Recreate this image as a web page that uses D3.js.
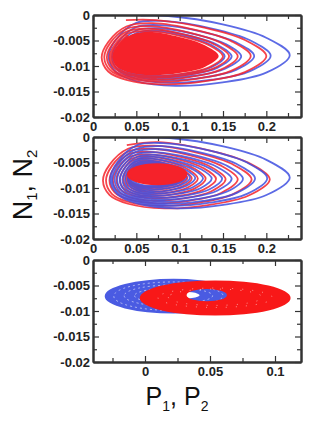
<!DOCTYPE html>
<html>
<head>
<meta charset="utf-8">
<script src="https://cdn.jsdelivr.net/npm/d3@7"></script>
<style>
  body { margin: 0; background: #fff; }
  svg { display: block; }
  .axis text { font-family: "Liberation Sans", Arial, sans-serif; font-weight: bold; font-size: 13px; fill: #222; }
  .axis path, .axis line { stroke: #333; }
  .label { font-family: "Liberation Sans", Arial, sans-serif; fill: #111; }
</style>
</head>
<body>
<svg id="chart"></svg>
<script>
// tick values
const xTicksWide = [0, 0.05, 0.1, 0.15, 0.2];
const xMinorWide = [0.025, 0.075, 0.125, 0.175, 0.225];
const xTicksNarrow = [0, 0.05, 0.1];
const xMinorNarrow = [-0.025, 0.025, 0.075];
const yTicks = [0, -0.005, -0.01, -0.015, -0.02];
const yMinor = [-0.0025, -0.0075, -0.0125, -0.0175];

// outline of one orbit, read from the outer blue loop, as fractions of its box
// (u: left -> right, v: bottom -> top), going top -> right -> bottom -> left
const loopShape = [[0.33, 1], [0.63, 0.88], [0.87, 0.69], [1, 0.44], [0.87, 0.19], [0.63, 0.05],
  [0.37, 0], [0.15, 0.07], [0.04, 0.2], [0, 0.42], [0.04, 0.66], [0.15, 0.9]];

// orbit boxes: [xLeft, xRight, yBottom, yTop]
const blueStart1 = [0.055, -0.0001];
const blueLoops1 = [
  [0.018, 0.227, -0.0139, -0.0002],
  [0.022, 0.205, -0.0133, -0.0012],
  [0.025, 0.186, -0.0128, -0.0020],
  [0.028, 0.171, -0.0124, -0.0026],
  [0.031, 0.160, -0.0121, -0.0030],
  [0.033, 0.152, -0.0119, -0.0032]
];
const redStart1 = [0.038, -0.0010];
const redLoops1 = [
  [0.010, 0.200, -0.0136, -0.0010],
  [0.013, 0.182, -0.0131, -0.0016],
  [0.016, 0.167, -0.0127, -0.0022],
  [0.019, 0.157, -0.0123, -0.0027],
  [0.021, 0.150, -0.0120, -0.0031]
];
const redBlob1 = [0.022, 0.145, -0.0118, -0.0033];

const blueStart2 = [0.055, -0.0001];
const blueLoops2 = [
  [0.020, 0.227, -0.0140, -0.0002],
  [0.022, 0.201, -0.0135, -0.0012],
  [0.025, 0.187, -0.0131, -0.0018],
  [0.028, 0.173, -0.0127, -0.0024],
  [0.031, 0.160, -0.0123, -0.0030],
  [0.034, 0.149, -0.0119, -0.0035],
  [0.037, 0.137, -0.0115, -0.0039],
  [0.040, 0.127, -0.0111, -0.0043],
  [0.042, 0.118, -0.0107, -0.0047],
  [0.044, 0.112, -0.0103, -0.0050],
  [0.045, 0.108, -0.0099, -0.0053],
  [0.046, 0.105, -0.0096, -0.0055]
];
const redStart2 = [0.039, -0.0016];
const redLoops2 = [
  [0.0115, 0.204, -0.0140, -0.0010],
  [0.015, 0.183, -0.0135, -0.0017],
  [0.019, 0.167, -0.0130, -0.0023],
  [0.023, 0.153, -0.0125, -0.0029],
  [0.027, 0.142, -0.0120, -0.0034],
  [0.031, 0.130, -0.0116, -0.0038],
  [0.035, 0.121, -0.0112, -0.0042],
  [0.038, 0.114, -0.0108, -0.0046],
  [0.040, 0.109, -0.0104, -0.0049],
  [0.041, 0.106, -0.0100, -0.0052],
  [0.042, 0.104, -0.0097, -0.0054]
];
// small central blob of panel 2: [cx, cy, rx, ry]
const redBlob2 = [0.074, -0.0073, 0.034, 0.0020];

// bottom panel rings: [cx, cy, rx, ry] outer and hole
const blueRingOuter = [0.022, -0.0071, 0.053, 0.0034];
const blueRingHole = [0.022, -0.0069, 0.020, 0.0008];
const redRingOuter = [0.054, -0.00745, 0.058, 0.00345];
const redRingHole = [0.0475, -0.0069, 0.0155, 0.0012];
// gaps between the dense blue orbits: [cx, cy, rx, ry]
const blueGaps = [
  [0.022, -0.0071, 0.046, 0.0028],
  [0.022, -0.0070, 0.038, 0.0021],
  [0.022, -0.0070, 0.030, 0.0015]
];
// gaps between the dense red orbits
const redGaps = [
  [0.054, -0.0074, 0.044, 0.0019],
  [0.054, -0.0073, 0.036, 0.0016]
];

const blue = "#3f50e0", red = "#f5222a";

const width = 311, height = 421;
const svg = d3.select("#chart").attr("width", width).attr("height", height);

const left = 93, right = 301;
const panels = [
  { top: 15, bottom: 117, xDomain: [0, 0.24], xTicks: xTicksWide, xMinor: xMinorWide },
  { top: 137, bottom: 239, xDomain: [0, 0.24], xTicks: xTicksWide, xMinor: xMinorWide },
  { top: 260, bottom: 362, xDomain: [-0.04, 0.12], xTicks: xTicksNarrow, xMinor: xMinorNarrow }
];

const fmt = d => d === 0 ? "0" : d3.format("~g")(d).replace("\u2212", "-");

panels.forEach((p, i) => {
  p.x = d3.scaleLinear().domain(p.xDomain).range([left, right]);
  p.y = d3.scaleLinear().domain([-0.02, 0]).range([p.bottom, p.top]);
  svg.append("clipPath").attr("id", "clip" + i)
    .append("rect").attr("x", left).attr("y", p.top)
    .attr("width", right - left).attr("height", p.bottom - p.top);
  p.g = svg.append("g").attr("clip-path", `url(#clip${i})`);
});

function loopPoints(box) {
  const [x0, x1, y0, y1] = box;
  return loopShape.map(([u, v]) => [x0 + u * (x1 - x0), y0 + v * (y1 - y0)]);
}

function drawOrbit(p, start, loops, color) {
  let pts = [start];
  loops.forEach(b => { pts = pts.concat(loopPoints(b)); });
  const line = d3.line().x(d => p.x(d[0])).y(d => p.y(d[1])).curve(d3.curveCatmullRom.alpha(0.5));
  p.g.append("path").attr("d", line(pts))
    .attr("fill", "none").attr("stroke", color).attr("stroke-width", 1.8)
    .attr("stroke-opacity", 0.85);
}

function drawBlob(p, box, color) {
  const line = d3.line().x(d => p.x(d[0])).y(d => p.y(d[1])).curve(d3.curveCatmullRomClosed.alpha(0.5));
  p.g.append("path").attr("d", line(loopPoints(box))).attr("fill", color);
}

function ellipsePath(p, e) {
  const [cx, cy, rx, ry] = e;
  const X = p.x(cx), Y = p.y(cy);
  const RX = p.x(cx + rx) - X, RY = Y - p.y(cy + ry);
  return `M${X - RX},${Y}A${RX},${RY} 0 1 0 ${X + RX},${Y}A${RX},${RY} 0 1 0 ${X - RX},${Y}Z`;
}

function drawRing(p, outer, hole, color) {
  p.g.append("path").attr("d", ellipsePath(p, outer) + ellipsePath(p, hole))
    .attr("fill", color).attr("fill-rule", "evenodd");
}

function drawGaps(p, gaps, dash) {
  p.g.selectAll(null).data(gaps).enter().append("path")
    .attr("d", d => ellipsePath(p, d))
    .attr("fill", "none").attr("stroke", "#fff").attr("stroke-width", 0.8)
    .attr("stroke-opacity", 0.7).attr("stroke-dasharray", dash);
}

// panel 1
drawOrbit(panels[0], blueStart1, blueLoops1, blue);
drawOrbit(panels[0], redStart1, redLoops1, red);
drawBlob(panels[0], redBlob1, red);
// panel 2
drawOrbit(panels[1], redStart2, redLoops2, red);
drawOrbit(panels[1], blueStart2, blueLoops2, blue);
panels[1].g.append("path").attr("d", ellipsePath(panels[1], redBlob2))
  .attr("fill", red).attr("stroke", red).attr("stroke-width", 1.5);
// panel 3
drawRing(panels[2], blueRingOuter, blueRingHole, "#4a5be2");
drawGaps(panels[2], blueGaps, "2 3");
drawRing(panels[2], redRingOuter, redRingHole, "#f81818");
drawGaps(panels[2], redGaps, "1 9");

// axes
panels.forEach(p => {
  const mk = (axis, vals, size, labels) => axis.tickValues(vals).tickSize(size)
    .tickFormat(labels ? fmt : "").tickSizeOuter(0);
  const addAxis = (tr, axis) => svg.append("g").attr("class", "axis")
    .attr("transform", tr).call(axis).call(g => g.select(".domain").attr("stroke-width", 2));

  addAxis(`translate(0,${p.bottom})`, mk(d3.axisBottom(p.x), p.xTicks, -6, true).tickPadding(5));
  addAxis(`translate(0,${p.bottom})`, mk(d3.axisBottom(p.x), p.xMinor, -4, false));
  addAxis(`translate(0,${p.top})`, mk(d3.axisTop(p.x), p.xTicks, -6, false));
  addAxis(`translate(0,${p.top})`, mk(d3.axisTop(p.x), p.xMinor, -4, false));
  addAxis(`translate(${left},0)`, mk(d3.axisLeft(p.y), yTicks, -6, true).tickPadding(3));
  addAxis(`translate(${left},0)`, mk(d3.axisLeft(p.y), yMinor, -4, false));
  addAxis(`translate(${right},0)`, mk(d3.axisRight(p.y), yTicks, -6, false));
  addAxis(`translate(${right},0)`, mk(d3.axisRight(p.y), yMinor, -4, false));
});
svg.selectAll(".axis line").attr("stroke-width", 1.2);

// axis titles
const yl = svg.append("text").attr("class", "label")
  .attr("transform", "translate(32,185) rotate(-90)")
  .attr("text-anchor", "middle").attr("font-size", 27);
yl.append("tspan").text("N");
yl.append("tspan").text("1").attr("font-size", 15).attr("dy", 5);
yl.append("tspan").text(", N").attr("dy", -5);
yl.append("tspan").text("2").attr("font-size", 15).attr("dy", 5);

const xl = svg.append("text").attr("class", "label")
  .attr("x", 177).attr("y", 405)
  .attr("text-anchor", "middle").attr("font-size", 25);
xl.append("tspan").text("P");
xl.append("tspan").text("1").attr("font-size", 14).attr("dy", 6);
xl.append("tspan").text(", P").attr("dy", -6);
xl.append("tspan").text("2").attr("font-size", 14).attr("dy", 6);
</script>
</body>
</html>
